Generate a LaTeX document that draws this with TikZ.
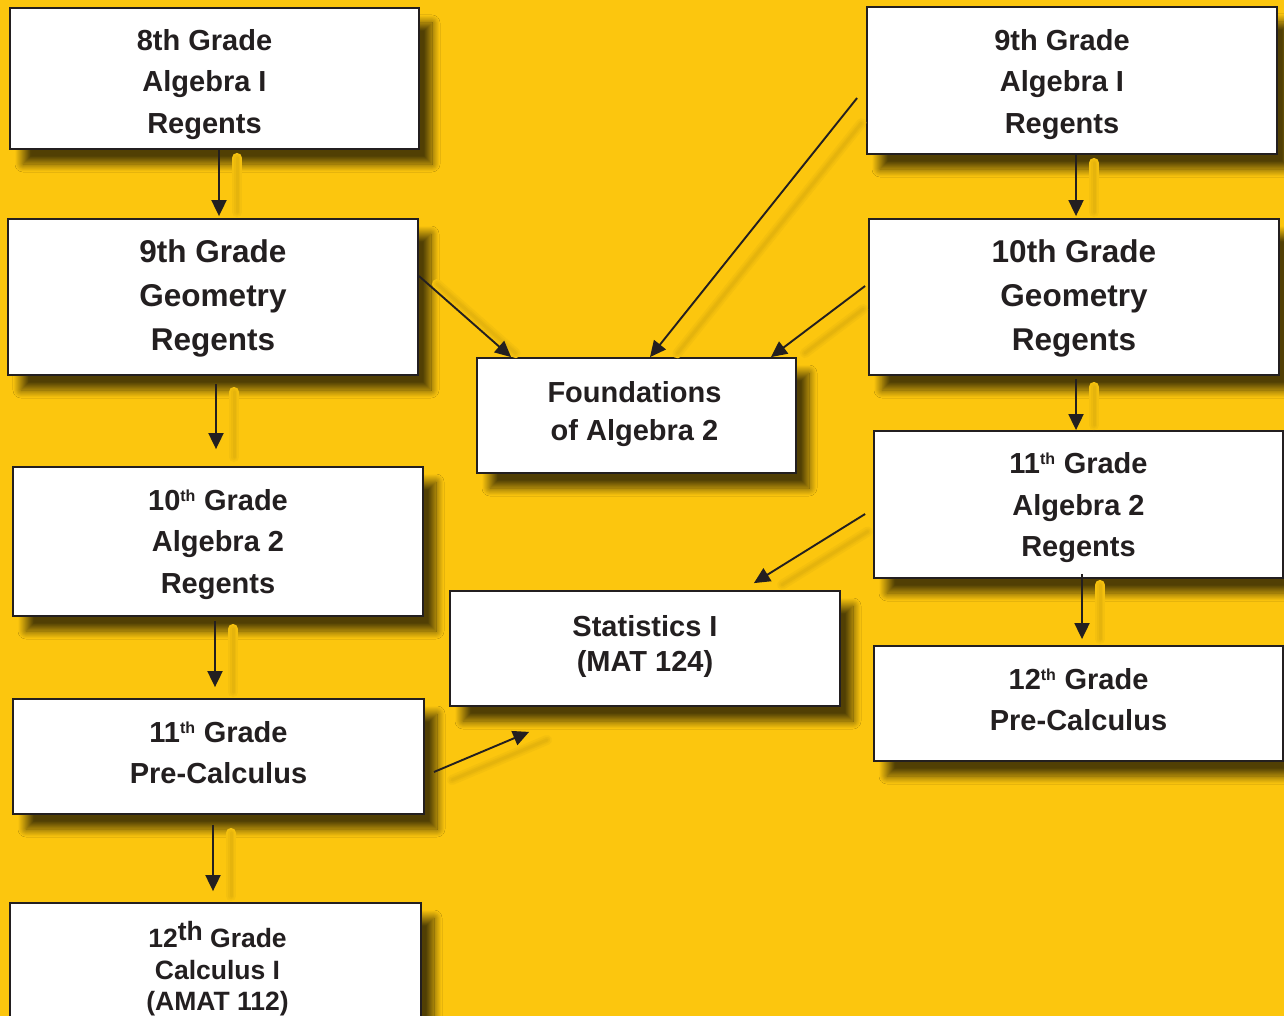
\documentclass[tikz,border=0pt]{standalone}
\usepackage{fontspec}
\setmainfont{Liberation Sans}
\usetikzlibrary{arrows.meta,shadows.blur}
\definecolor{bgyellow}{HTML}{FCC60E}
\definecolor{ink}{HTML}{231F20}
\newcommand{\sth}{\textsuperscript{\fontsize{16}{16}\selectfont th}}
\tikzset{
  box/.style={draw=ink, line width=1.8pt, fill=white, inner sep=0pt,
    blur shadow={shadow xshift=13pt, shadow yshift=-15pt, shadow blur radius=8pt,
      shadow blur steps=16, shadow opacity=68}},
  txt/.style={inner sep=0pt, align=center, text=ink, font=\fontsize{29}{41.5}\selectfont\bfseries},
  bigtxt/.style={txt, font=\fontsize{31.5}{44}\selectfont\bfseries},
  conn/.style={draw=ink, line width=1.9pt, -{Triangle[length=16pt,width=15pt]}},
  cshadow/.style={line cap=round, transform canvas={shift={(18pt,-8pt)}}},
  cs1/.style={cshadow, draw=bgyellow!97!black, line width=10pt},
  cs2/.style={cshadow, draw=bgyellow!94!black, line width=6pt},
  cs3/.style={cshadow, draw=bgyellow!91!black, line width=3pt}
}
\begin{document}
\begin{tikzpicture}[x=1pt,y=-1pt]
\useasboundingbox[fill=bgyellow] (0,0) rectangle (1284,1016);
% boxes
\node[box, minimum width=409pt, minimum height=141pt] (A) at (214.5,78.5) {};
\node[box, minimum width=410pt, minimum height=156pt] (B) at (213,297) {};
\node[box, minimum width=410pt, minimum height=149pt] (C) at (218,541.5) {};
\node[box, minimum width=411pt, minimum height=115pt] (D) at (218.5,756.5) {};
\node[box, minimum width=411pt, minimum height=142pt] (E) at (215.5,974) {};
\node[box, minimum width=319pt, minimum height=115pt] (F) at (636.5,415.5) {};
\node[box, minimum width=390pt, minimum height=115pt] (G) at (645,648.5) {};
\node[box, minimum width=410pt, minimum height=147pt] (H) at (1072,80.5) {};
\node[box, minimum width=410pt, minimum height=156pt] (I) at (1074,297) {};
\node[box, minimum width=409pt, minimum height=147pt] (J) at (1078.5,504.5) {};
\node[box, minimum width=409pt, minimum height=115pt] (K) at (1078.5,703.5) {};
% texts
\node[txt] (At) at ([xshift=-10pt,yshift=-6pt]A.center) {8th Grade\\Algebra I\\Regents};
\node[bigtxt] (Bt) at ([yshift=-1.5pt]B.center) {9th Grade\\Geometry\\Regents};
\node[txt] (Ct) at ([yshift=-3pt]C.center) {10\sth{} Grade\\Algebra 2\\Regents};
\node[txt] (Dt) at ([yshift=4pt]D.center) {11\sth{} Grade\\Pre-Calculus};
\node[txt, font=\fontsize{26.5}{31.5}\selectfont\bfseries] (Et) at ([xshift=2pt,yshift=5pt]E.center) {12\raisebox{7pt}{th} Grade\\Calculus I\\(AMAT 112)};
\node[txt, font=\fontsize{29}{38}\selectfont\bfseries] (Ft) at ([xshift=-2pt,yshift=1pt]F.center) {Foundations\\of Algebra 2};
\node[txt, font=\fontsize{29}{35}\selectfont\bfseries] (Gt) at ([yshift=2pt]G.center) {Statistics I\\(MAT 124)};
\node[txt] (Ht) at ([xshift=-10pt,yshift=-4pt]H.center) {9th Grade\\Algebra I\\Regents};
\node[bigtxt] (It) at ([yshift=-1.5pt]I.center) {10th Grade\\Geometry\\Regents};
\node[txt] (Jt) at ([yshift=-3.5pt]J.center) {11\sth{} Grade\\Algebra 2\\Regents};
\node[txt] (Kt) at ([yshift=4pt]K.center) {12\sth{} Grade\\Pre-Calculus};
% connector end points
\coordinate (a1) at ([xshift=4.5pt]A.south);            \coordinate (a2) at ([xshift=6pt,yshift=2pt]B.north);
\coordinate (b1) at ([xshift=3pt,yshift=-8pt]B.south);  \coordinate (b2) at ([xshift=-2pt,yshift=17pt]C.north);
\coordinate (c1) at ([xshift=-3pt,yshift=-4pt]C.south); \coordinate (c2) at ([xshift=-3.5pt,yshift=11pt]D.north);
\coordinate (d1) at ([xshift=-5.5pt,yshift=-10pt]D.south); \coordinate (d2) at ([xshift=-2.5pt,yshift=11pt]E.north);
\coordinate (b3) at ([yshift=21pt]B.east);               \coordinate (f1) at ([xshift=35pt]F.north west);
\coordinate (h1) at ([xshift=-9pt,yshift=-17.5pt]H.west); \coordinate (f2) at ([xshift=13.5pt]F.north);
\coordinate (i1) at ([xshift=-3pt,yshift=11pt]I.west);   \coordinate (f3) at ([xshift=-26pt]F.north east);
\coordinate (j1) at ([xshift=-8pt,yshift=-9.5pt]J.west); \coordinate (g1) at ([xshift=-87pt,yshift=7pt]G.north east);
\coordinate (d3) at ([xshift=9pt,yshift=-15.5pt]D.east); \coordinate (g2) at ([xshift=80pt,yshift=-25pt]G.south west);
\coordinate (h2) at ([xshift=4pt]H.south);               \coordinate (i2) at ([xshift=2pt,yshift=2pt]I.north);
\coordinate (i3) at ([xshift=2pt,yshift=-3pt]I.south);   \coordinate (j2) at ([xshift=-2.5pt]J.north);
\coordinate (j3) at ([xshift=3.5pt,yshift=5pt]J.south);  \coordinate (k1) at ([xshift=3.5pt,yshift=6pt]K.north);
% faint connector shadows (kept clear of the boxes)
\foreach \p/\q/\s/\e in {a1/a2/0/12, b1/b2/0/0, c1/c2/0/3, d1/d2/0/3,
    b3/f1/0/18, h1/f2/22/15, i1/f3/25/20, j1/g1/18/12, d3/g2/0/0,
    h2/i2/0/12, i3/j2/0/13, j3/k1/3/8}{
  \draw[cs1, shorten <=\s pt, shorten >=\e pt] (\p) -- (\q);
  \draw[cs2, shorten <=\s pt, shorten >=\e pt] (\p) -- (\q);
  \draw[cs3, shorten <=\s pt, shorten >=\e pt] (\p) -- (\q);
}
% connectors
\draw[conn] (a1) -- (a2);
\draw[conn] (b1) -- (b2);
\draw[conn] (c1) -- (c2);
\draw[conn] (d1) -- (d2);
\draw[conn] (b3) -- (f1);
\draw[conn] (h1) -- (f2);
\draw[conn] (i1) -- (f3);
\draw[conn] (j1) -- (g1);
\draw[conn] (d3) -- (g2);
\draw[conn] (h2) -- (i2);
\draw[conn] (i3) -- (j2);
\draw[conn] (j3) -- (k1);
\end{tikzpicture}
\end{document}
